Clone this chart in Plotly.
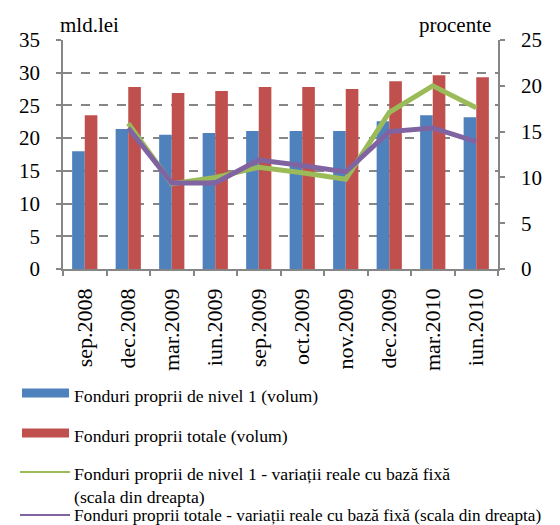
import plotly.graph_objects as go

categories = ["sep.2008", "dec.2008", "mar.2009", "iun.2009", "sep.2009",
              "oct.2009", "nov.2009", "dec.2009", "mar.2010", "iun.2010"]
tier1_volume = [18.0, 21.4, 20.5, 20.8, 21.1, 21.1, 21.1, 22.6, 23.5, 23.2]
total_volume = [23.5, 27.8, 26.9, 27.2, 27.8, 27.8, 27.5, 28.7, 29.6, 29.3]
tier1_real = [None, 15.9, 9.3, 10.0, 11.1, 10.5, 9.8, 17.1, 20.0, 17.6]
total_real = [None, 15.4, 9.4, 9.4, 11.9, 11.3, 10.6, 15.0, 15.4, 13.9]

legend_labels = [
    "Fonduri proprii de nivel 1 (volum)",
    "Fonduri proprii totale (volum)",
    "Fonduri proprii de nivel 1 - variații reale cu bază fixă<br>(scala din dreapta)",
    "Fonduri proprii totale - variații reale cu bază fixă (scala din dreapta)",
]

BLUE = "#4F81BD"
RED = "#C0504D"
GREEN = "#9BBB59"
PURPLE = "#8064A2"
GRAY = "#868686"
FONT = "Liberation Serif, Times New Roman, serif"

# page is 560x525, the browser puts the figure 8px in from the top-left corner
PAGE_W, PAGE_H, PAD = 560, 525, 8
# plot area in page pixels
L, R, T, B = 63, 498, 40, 269


def px(x):
    return (x - L) / (R - L)


def py(y):
    return (B - y) / (B - T)


def note(text, x, y, size, anchor="left"):
    fig.add_annotation(text=text, xref="paper", yref="paper", x=px(x), y=py(y),
                       xanchor=anchor, yanchor="middle", align="left",
                       showarrow=False, borderpad=0,
                       font=dict(family=FONT, size=size, color="black"))


fig = go.Figure()
fig.add_trace(go.Bar(x=categories, y=tier1_volume, marker_color=BLUE,
                     marker_line_width=0, name=legend_labels[0]))
fig.add_trace(go.Bar(x=categories, y=total_volume, marker_color=RED,
                     marker_line_width=0, name=legend_labels[1]))
fig.add_trace(go.Scatter(x=categories, y=tier1_real, yaxis="y2", mode="lines",
                         line=dict(color=GREEN, width=5), name=legend_labels[2]))
fig.add_trace(go.Scatter(x=categories, y=total_real, yaxis="y2", mode="lines",
                         line=dict(color=PURPLE, width=5), name=legend_labels[3]))

# hand-drawn legend below the plot
symbols = [
    dict(kind="rect", color=BLUE, y=393),
    dict(kind="rect", color=RED, y=433),
    dict(kind="line", color=GREEN, y=472),
    dict(kind="line", color=PURPLE, y=515),
]
text_y = [396, 436, 485, 515]
text_size = [17.7, 17.7, 17.7, 17.2]
for sym, label, ty, ts in zip(symbols, legend_labels, text_y, text_size):
    if sym["kind"] == "rect":
        fig.add_shape(type="rect", xref="paper", yref="paper",
                      x0=px(22), x1=px(69), y0=py(sym["y"] - 4.5), y1=py(sym["y"] + 4.5),
                      fillcolor=sym["color"], line_width=0)
    else:
        fig.add_shape(type="line", xref="paper", yref="paper",
                      x0=px(20), x1=px(70), y0=py(sym["y"]), y1=py(sym["y"]),
                      line=dict(color=sym["color"], width=2))
    note(label, 73, ty, ts)

note("mld.lei", 59, 25, 21)
note("procente", 492, 25, 21, anchor="right")

fig.update_layout(
    width=PAGE_W - PAD, height=PAGE_H - PAD,
    margin=dict(l=L - PAD, r=PAGE_W - R, t=T - PAD, b=PAGE_H - B),
    paper_bgcolor="white", plot_bgcolor="white",
    showlegend=False,
    barmode="group", bargap=0.42, bargroupgap=0.0,
    font=dict(family=FONT, size=20, color="black"),
    xaxis=dict(type="category", tickangle=-90, tickson="boundaries",
               ticks="outside", ticklen=5, tickcolor=GRAY, tickwidth=1.5,
               showline=True, linecolor=GRAY, linewidth=1.5,
               showgrid=False, ticklabelstandoff=9,
               tickfont=dict(family=FONT, size=22)),
    yaxis=dict(range=[0, 35], dtick=5, ticks="outside", ticklen=5,
               tickcolor=GRAY, tickwidth=1.5, showline=True, linecolor=GRAY,
               linewidth=1.5, showgrid=True, gridcolor=GRAY, griddash="dash",
               gridwidth=1.5, zeroline=False, ticklabelstandoff=12,
               tickfont=dict(family=FONT, size=21)),
    yaxis2=dict(range=[0, 25], dtick=5, overlaying="y", side="right",
                ticks="outside", ticklen=5, tickcolor=GRAY, tickwidth=1.5,
                showline=True, linecolor=GRAY, linewidth=1.5, showgrid=False,
                zeroline=False, ticklabelstandoff=12,
                tickfont=dict(family=FONT, size=21)),
)

fig.write_html("out.html")
